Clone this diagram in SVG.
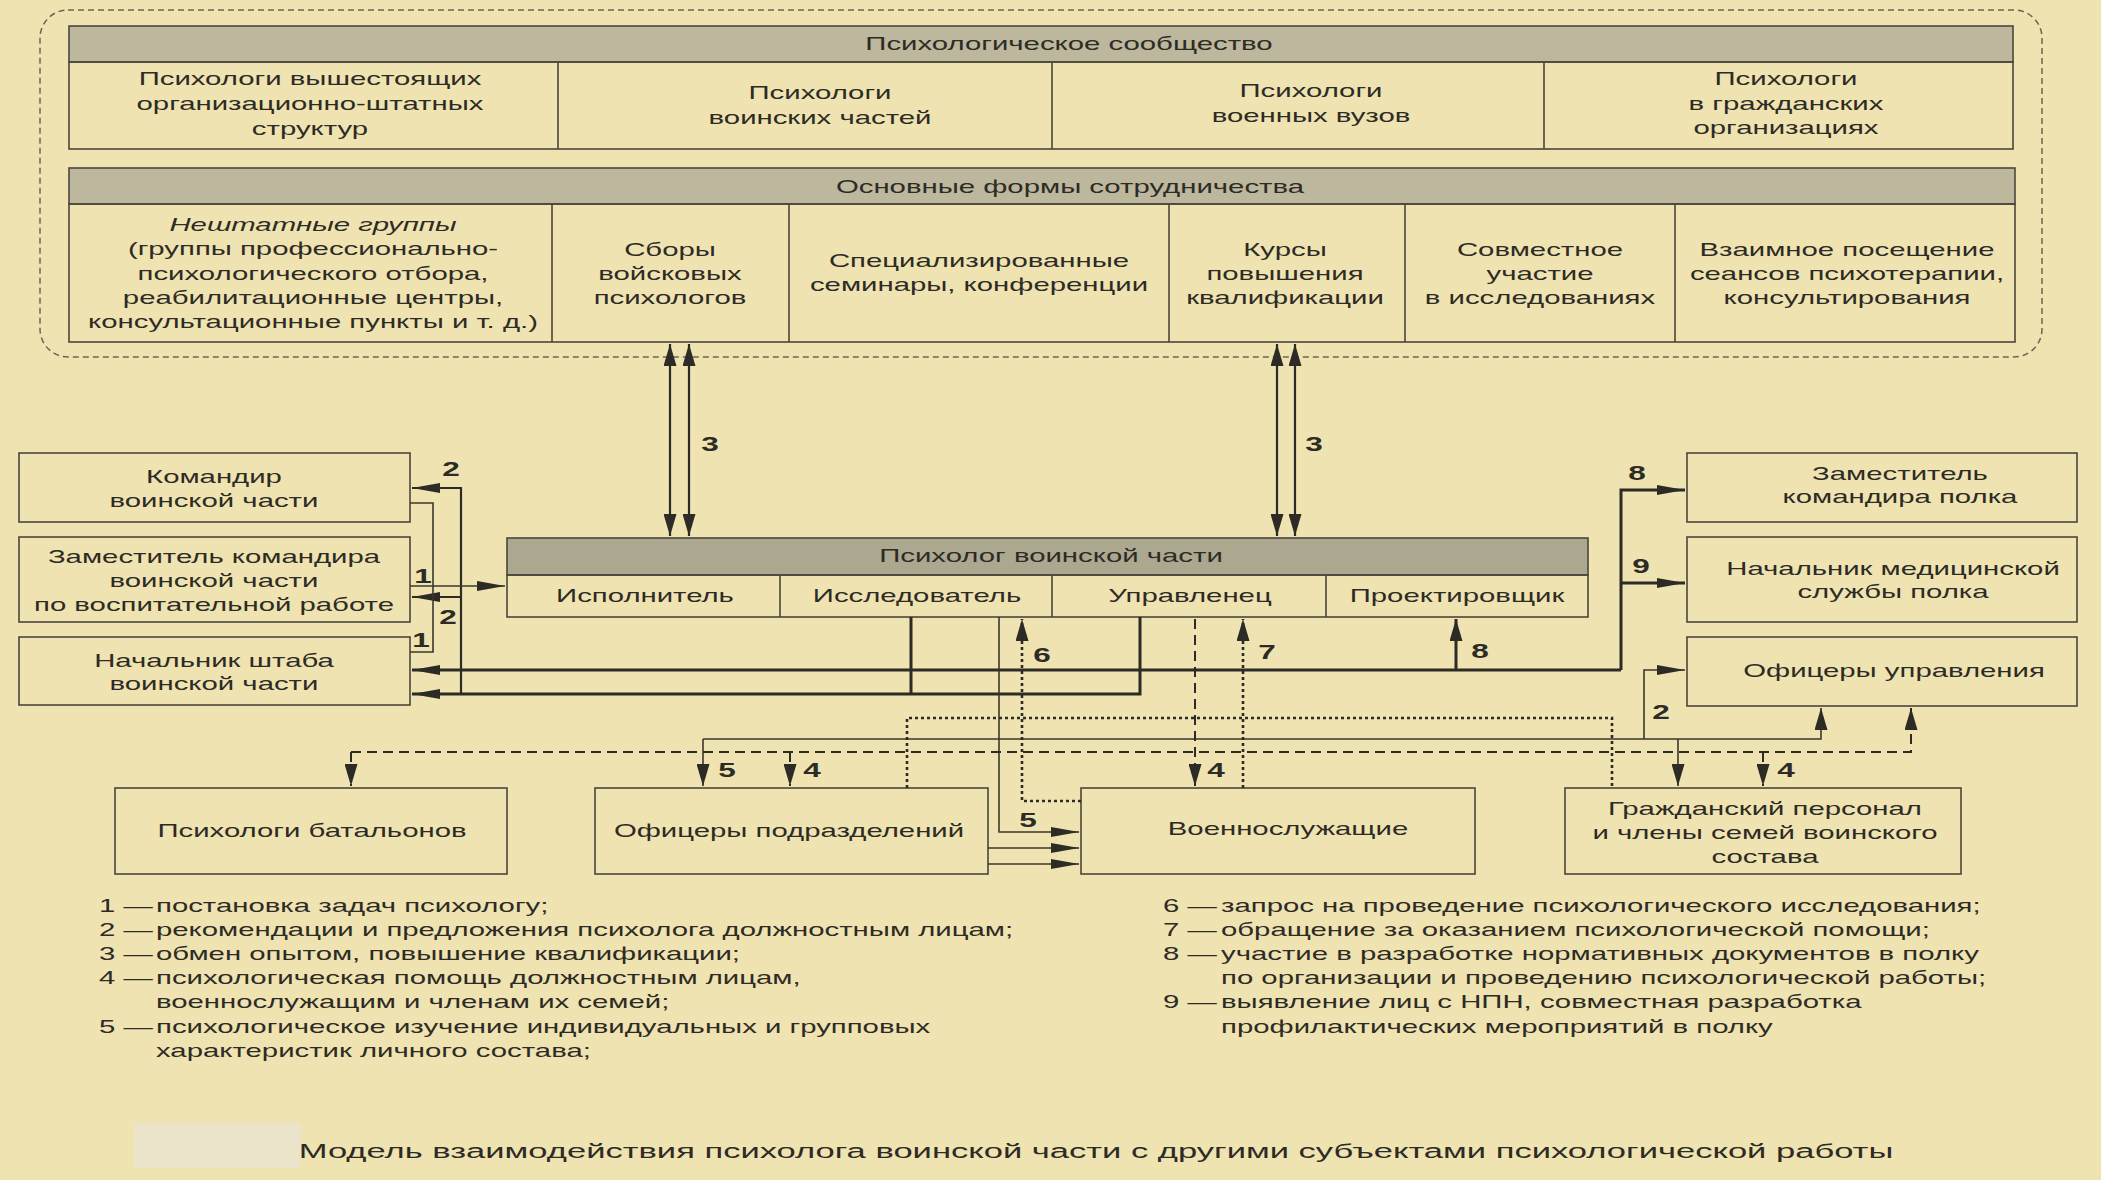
<svg xmlns="http://www.w3.org/2000/svg" width="2101" height="1180" viewBox="0 0 2101 1180">
<style>
.t{font-family:"Liberation Sans",Arial,sans-serif;font-size:18px;fill:#2d2b25;text-anchor:middle}
.ts{font-family:"Liberation Sans",Arial,sans-serif;font-size:18px;fill:#2d2b25;text-anchor:start}
.it{font-style:italic}
.lb{font-family:"Liberation Sans",Arial,sans-serif;font-size:21px;font-weight:bold;fill:#2d2b25;text-anchor:middle}
.cap{font-family:"Liberation Sans",Arial,sans-serif;font-size:21px;fill:#2d2b25;text-anchor:middle}
.box{fill:none;stroke:#4a473c;stroke-width:1.6}
.hdr{fill:#bcb79d;stroke:#4a473c;stroke-width:1.6}
.hdr2{fill:#aca88f;stroke:#4a473c;stroke-width:1.6}
.div{stroke:#4a473c;stroke-width:1.6}
.thick{fill:none;stroke:#2d2b25;stroke-width:3}
.mid{fill:none;stroke:#2d2b25;stroke-width:2.2}
.thin{fill:none;stroke:#3a382f;stroke-width:1.6}
.dash{fill:none;stroke:#2d2b25;stroke-width:2;stroke-dasharray:10 6}
.dot{fill:none;stroke:#2d2b25;stroke-width:2.6;stroke-dasharray:3 3}
</style>
<defs>
<marker id="mh" viewBox="0 0 28 10" refX="28" refY="5" markerWidth="28" markerHeight="10" orient="auto-start-reverse" markerUnits="userSpaceOnUse"><path d="M0,0 L28,5 L0,10 z" fill="#2d2b25"/></marker>
<marker id="mv" viewBox="0 0 22 13" refX="22" refY="6.5" markerWidth="22" markerHeight="13" orient="auto-start-reverse" markerUnits="userSpaceOnUse"><path d="M0,0 L22,6.5 L0,13 z" fill="#2d2b25"/></marker>
</defs>
<rect x="0" y="0" width="2101" height="1180" fill="#efe3b1"/>

<g id="community-frame">
<rect x="40" y="10" width="2002" height="347" rx="28" ry="28" fill="none" stroke="#6b6755" stroke-width="1.5" stroke-dasharray="6 4"/>
</g>

<g id="community-table">
<rect class="hdr" x="69" y="26" width="1944" height="36"/>
<rect class="box" x="69" y="62" width="1944" height="87"/>
<line class="div" x1="558" y1="62" x2="558" y2="149"/>
<line class="div" x1="1052" y1="62" x2="1052" y2="149"/>
<line class="div" x1="1544" y1="62" x2="1544" y2="149"/>
<text class="t" transform="matrix(1.63 0 0 1 1069 50)">Психологическое сообщество</text>
</g>
<g id="node-higher-psychologists"><text class="t" transform="matrix(1.63 0 0 1 310 85)">Психологи вышестоящих<tspan x="0" dy="25">организационно-штатных</tspan><tspan x="0" dy="25">структур</tspan></text></g>
<g id="node-unit-psychologists"><text class="t" transform="matrix(1.63 0 0 1 820 99)">Психологи<tspan x="0" dy="25">воинских частей</tspan></text></g>
<g id="node-university-psychologists"><text class="t" transform="matrix(1.63 0 0 1 1311 97)">Психологи<tspan x="0" dy="25">военных вузов</tspan></text></g>
<g id="node-civil-psychologists"><text class="t" transform="matrix(1.63 0 0 1 1786 85)">Психологи<tspan x="0" dy="25">в гражданских</tspan><tspan x="0" dy="24">организациях</tspan></text></g>

<g id="cooperation-table">
<rect class="hdr" x="69" y="168" width="1946" height="36"/>
<rect class="box" x="69" y="204" width="1946" height="138"/>
<line class="div" x1="552" y1="204" x2="552" y2="342"/>
<line class="div" x1="789" y1="204" x2="789" y2="342"/>
<line class="div" x1="1169" y1="204" x2="1169" y2="342"/>
<line class="div" x1="1405" y1="204" x2="1405" y2="342"/>
<line class="div" x1="1675" y1="204" x2="1675" y2="342"/>
<text class="t" transform="matrix(1.63 0 0 1 1070 193)">Основные формы сотрудничества</text>
</g>
<g id="node-groups"><text class="t" transform="matrix(1.63 0 0 1 313 231)"><tspan class="it">Нештатные группы</tspan><tspan x="0" dy="24">(группы профессионально-</tspan><tspan x="0" dy="25">психологического отбора,</tspan><tspan x="0" dy="24">реабилитационные центры,</tspan><tspan x="0" dy="24">консультационные пункты и т. д.)</tspan></text></g>
<g id="node-gatherings"><text class="t" transform="matrix(1.63 0 0 1 670 256)">Сборы<tspan x="0" dy="24">войсковых</tspan><tspan x="0" dy="24">психологов</tspan></text></g>
<g id="node-seminars"><text class="t" transform="matrix(1.63 0 0 1 979 267)">Специализированные<tspan x="0" dy="24">семинары, конференции</tspan></text></g>
<g id="node-courses"><text class="t" transform="matrix(1.63 0 0 1 1285 256)">Курсы<tspan x="0" dy="24">повышения</tspan><tspan x="0" dy="24">квалификации</tspan></text></g>
<g id="node-research"><text class="t" transform="matrix(1.63 0 0 1 1540 256)">Совместное<tspan x="0" dy="24">участие</tspan><tspan x="0" dy="24">в исследованиях</tspan></text></g>
<g id="node-visits"><text class="t" transform="matrix(1.63 0 0 1 1847 256)">Взаимное посещение<tspan x="0" dy="24">сеансов психотерапии,</tspan><tspan x="0" dy="24">консультирования</tspan></text></g>

<g id="node-unit-psychologist">
<rect class="hdr2" x="507" y="538" width="1081" height="37"/>
<rect class="box" x="507" y="575" width="1081" height="42"/>
<line class="div" x1="780" y1="575" x2="780" y2="617"/>
<line class="div" x1="1052" y1="575" x2="1052" y2="617"/>
<line class="div" x1="1326" y1="575" x2="1326" y2="617"/>
<text class="t" transform="matrix(1.63 0 0 1 1051 562)">Психолог воинской части</text>
<text class="t" transform="matrix(1.63 0 0 1 645 602)">Исполнитель</text>
<text class="t" transform="matrix(1.63 0 0 1 917 602)">Исследователь</text>
<text class="t" transform="matrix(1.63 0 0 1 1190 602)">Управленец</text>
<text class="t" transform="matrix(1.63 0 0 1 1457 602)">Проектировщик</text>
</g>

<g id="node-commander"><rect class="box" x="19" y="453" width="391" height="69"/><text class="t" transform="matrix(1.63 0 0 1 214 483)">Командир<tspan x="0" dy="24">воинской части</tspan></text></g>
<g id="node-deputy-commander"><rect class="box" x="19" y="537" width="391" height="85"/><text class="t" transform="matrix(1.63 0 0 1 214 563)">Заместитель командира<tspan x="0" dy="24">воинской части</tspan><tspan x="0" dy="24">по воспитательной работе</tspan></text></g>
<g id="node-chief-of-staff"><rect class="box" x="19" y="637" width="391" height="68"/><text class="t" transform="matrix(1.63 0 0 1 214 667)">Начальник штаба<tspan x="0" dy="23">воинской части</tspan></text></g>

<g id="node-deputy-regiment"><rect class="box" x="1687" y="453" width="390" height="69"/><text class="t" transform="matrix(1.63 0 0 1 1900 480)">Заместитель<tspan x="0" dy="23">командира полка</tspan></text></g>
<g id="node-medical-chief"><rect class="box" x="1687" y="537" width="390" height="85"/><text class="t" transform="matrix(1.63 0 0 1 1893 575)">Начальник медицинской<tspan x="0" dy="23">службы полка</tspan></text></g>
<g id="node-staff-officers"><rect class="box" x="1687" y="637" width="390" height="69"/><text class="t" transform="matrix(1.63 0 0 1 1894 677)">Офицеры управления</text></g>

<g id="node-battalion-psychologists"><rect class="box" x="115" y="788" width="392" height="86"/><text class="t" transform="matrix(1.63 0 0 1 312 837)">Психологи батальонов</text></g>
<g id="node-unit-officers"><rect class="box" x="595" y="788" width="393" height="86"/><text class="t" transform="matrix(1.63 0 0 1 789 837)">Офицеры подразделений</text></g>
<g id="node-servicemen"><rect class="box" x="1081" y="788" width="394" height="86"/><text class="t" transform="matrix(1.63 0 0 1 1288 835)">Военнослужащие</text></g>
<g id="node-civilians"><rect class="box" x="1565" y="788" width="396" height="86"/><text class="t" transform="matrix(1.63 0 0 1 1765 815)">Гражданский персонал<tspan x="0" dy="24">и члены семей воинского</tspan><tspan x="0" dy="24">состава</tspan></text></g>

<g id="connectors">
<path class="mid" d="M670,344 V536" marker-start="url(#mv)" marker-end="url(#mv)"/>
<path class="mid" d="M689,344 V536" marker-start="url(#mv)" marker-end="url(#mv)"/>
<path class="mid" d="M1277,344 V536" marker-start="url(#mv)" marker-end="url(#mv)"/>
<path class="mid" d="M1295,344 V536" marker-start="url(#mv)" marker-end="url(#mv)"/>
<path class="thick" d="M1140,617 V694 H412" marker-end="url(#mh)"/>
<path class="thick" d="M911,617 V694"/>
<path class="mid" d="M461,694 V488 H412" marker-end="url(#mh)"/>
<path class="mid" d="M461,597 H412" marker-end="url(#mh)"/>
<path class="thick" d="M1621,670 H412" marker-end="url(#mh)"/>
<path class="thick" d="M1621,670 V490 H1685" marker-end="url(#mh)"/>
<path class="thick" d="M1621,583 H1685" marker-end="url(#mh)"/>
<path class="thick" d="M1456,670 V619" marker-end="url(#mv)"/>
<path class="thin" d="M410,503 H433 V652 H410"/>
<path class="thin" d="M410,586 H505" marker-end="url(#mh)"/>
<path class="thin" d="M999,617 V832 H1079" marker-end="url(#mh)"/>
<path class="thin" d="M988,848 H1079" marker-end="url(#mh)"/>
<path class="thin" d="M988,864 H1079" marker-end="url(#mh)"/>
<path class="thin" d="M703,739 V786" marker-end="url(#mv)"/>
<path class="thin" d="M703,739 H1821 V708" marker-end="url(#mv)"/>
<path class="thin" d="M1644,739 V670 H1685" marker-end="url(#mh)"/>
<path class="thin" d="M1678,739 V786" marker-end="url(#mv)"/>
<path class="dash" d="M351,752 H1911 V708" marker-end="url(#mv)"/>
<path class="dash" d="M351,752 V786" marker-end="url(#mv)"/>
<path class="dash" d="M790,752 V786" marker-end="url(#mv)"/>
<path class="dash" d="M1763,752 V786" marker-end="url(#mv)"/>
<path class="dash" d="M1195,619 V786" marker-end="url(#mv)"/>
<path class="dot" d="M907,788 V718 H1612 V788"/>
<path class="dot" d="M1243,788 V619" marker-end="url(#mv)"/>
<path class="dot" d="M1081,801 H1022 V619" marker-end="url(#mv)"/>
</g>

<g id="connector-labels">
<text class="lb" transform="matrix(1.5 0 0 1 710 451)">3</text>
<text class="lb" transform="matrix(1.5 0 0 1 1314 451)">3</text>
<text class="lb" transform="matrix(1.5 0 0 1 451 476)">2</text>
<text class="lb" transform="matrix(1.5 0 0 1 423 583)">1</text>
<text class="lb" transform="matrix(1.5 0 0 1 448 624)">2</text>
<text class="lb" transform="matrix(1.5 0 0 1 421 647)">1</text>
<text class="lb" transform="matrix(1.5 0 0 1 1042 662)">6</text>
<text class="lb" transform="matrix(1.5 0 0 1 1267 659)">7</text>
<text class="lb" transform="matrix(1.5 0 0 1 1480 658)">8</text>
<text class="lb" transform="matrix(1.5 0 0 1 1637 480)">8</text>
<text class="lb" transform="matrix(1.5 0 0 1 1641 573)">9</text>
<text class="lb" transform="matrix(1.5 0 0 1 727 777)">5</text>
<text class="lb" transform="matrix(1.5 0 0 1 812 777)">4</text>
<text class="lb" transform="matrix(1.5 0 0 1 1028 827)">5</text>
<text class="lb" transform="matrix(1.5 0 0 1 1216 777)">4</text>
<text class="lb" transform="matrix(1.5 0 0 1 1661 719)">2</text>
<text class="lb" transform="matrix(1.5 0 0 1 1786 777)">4</text>
</g>

<g id="legend">
<text class="ts" transform="matrix(1.63 0 0 1 99 912)">1 —</text>
<text class="ts" transform="matrix(1.63 0 0 1 156 912)">постановка задач психологу;</text>
<text class="ts" transform="matrix(1.63 0 0 1 99 936)">2 —</text>
<text class="ts" transform="matrix(1.63 0 0 1 156 936)">рекомендации и предложения психолога должностным лицам;</text>
<text class="ts" transform="matrix(1.63 0 0 1 99 960)">3 —</text>
<text class="ts" transform="matrix(1.63 0 0 1 156 960)">обмен опытом, повышение квалификации;</text>
<text class="ts" transform="matrix(1.63 0 0 1 99 984)">4 —</text>
<text class="ts" transform="matrix(1.63 0 0 1 156 984)">психологическая помощь должностным лицам,</text>
<text class="ts" transform="matrix(1.63 0 0 1 156 1008)">военнослужащим и членам их семей;</text>
<text class="ts" transform="matrix(1.63 0 0 1 99 1033)">5 —</text>
<text class="ts" transform="matrix(1.63 0 0 1 156 1033)">психологическое изучение индивидуальных и групповых</text>
<text class="ts" transform="matrix(1.63 0 0 1 156 1057)">характеристик личного состава;</text>
<text class="ts" transform="matrix(1.63 0 0 1 1163 912)">6 —</text>
<text class="ts" transform="matrix(1.63 0 0 1 1221 912)">запрос на проведение психологического исследования;</text>
<text class="ts" transform="matrix(1.63 0 0 1 1163 936)">7 —</text>
<text class="ts" transform="matrix(1.63 0 0 1 1221 936)">обращение за оказанием психологической помощи;</text>
<text class="ts" transform="matrix(1.63 0 0 1 1163 960)">8 —</text>
<text class="ts" transform="matrix(1.63 0 0 1 1221 960)">участие в разработке нормативных документов в полку</text>
<text class="ts" transform="matrix(1.63 0 0 1 1221 984)">по организации и проведению психологической работы;</text>
<text class="ts" transform="matrix(1.63 0 0 1 1163 1008)">9 —</text>
<text class="ts" transform="matrix(1.63 0 0 1 1221 1008)">выявление лиц с НПН, совместная разработка</text>
<text class="ts" transform="matrix(1.63 0 0 1 1221 1033)">профилактических мероприятий в полку</text>
</g>

<g id="caption">
<rect x="134" y="1123" width="167" height="45" fill="#ece3cb"/>
<text class="cap" transform="matrix(1.645 0 0 1 1096 1158)">Модель взаимодействия психолога воинской части с другими субъектами психологической работы</text>
</g>
</svg>
